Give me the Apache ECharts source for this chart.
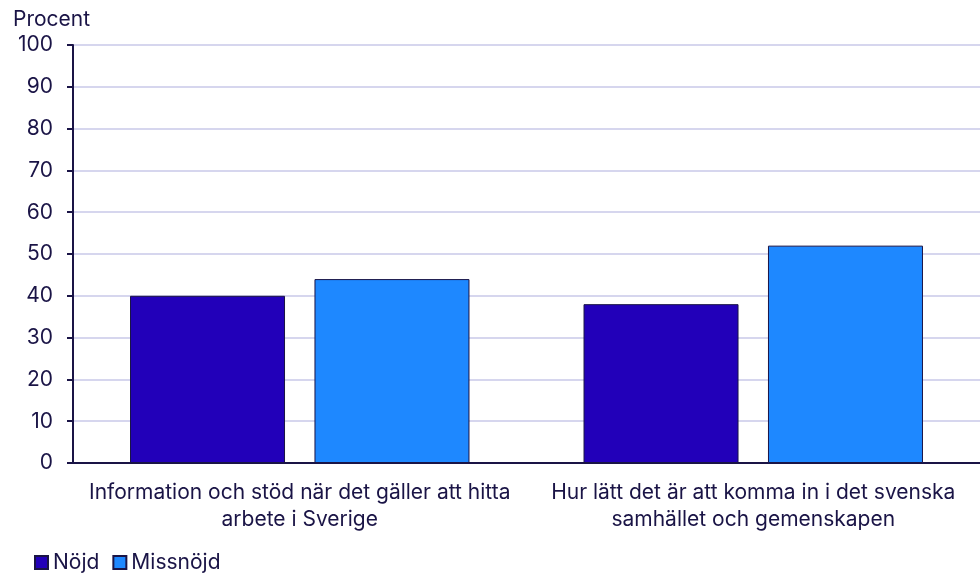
<!DOCTYPE html>
<html>
<head>
<meta charset="utf-8">
<script src="https://cdn.jsdelivr.net/npm/echarts@6/dist/echarts.min.js"></script>
<style>
  html, body { margin: 0; padding: 0; background: #fff; }
  #chart { width: 980px; height: 575px; }
</style>
</head>
<body>
<div id="chart"></div>
<script>
const categories = [
  'Information och stöd när det gäller att hitta\narbete i Sverige',
  'Hur lätt det är att komma in i det svenska\nsamhället och gemenskapen'
]
const nojd = [40, 38]
const missnojd = [44, 52]
const yTicks = [0, 10, 20, 30, 40, 50, 60, 70, 80, 90, 100]

const textColor = '#1a1446'
const font = 'Inter, "Noto Sans", sans-serif'

const chart = echarts.init(document.getElementById('chart'))

chart.setOption({
  animation: false,
  textStyle: { fontFamily: font, color: textColor },
  title: {
    text: 'Procent',
    left: 13,
    top: 9,
    padding: 0,
    textStyle: { fontFamily: font, fontSize: 21, fontWeight: 'normal', color: textColor }
  },
  legend: {
    left: 34,
    bottom: 2,
    padding: 0,
    itemWidth: 13,
    itemHeight: 13,
    itemGap: 13,
    icon: 'rect',
    textStyle: { fontFamily: font, fontSize: 21, color: textColor },
    data: ['Nöjd', 'Missnöjd']
  },
  grid: { left: 73, right: 0, top: 45, bottom: 112 },
  xAxis: {
    type: 'category',
    data: categories,
    axisLine: { lineStyle: { color: textColor, width: 2 } },
    axisTick: { length: 6, lineStyle: { color: textColor, width: 2 } },
    axisLabel: { fontFamily: font, fontSize: 21, color: textColor, lineHeight: 27, margin: 16, interval: 0 }
  },
  yAxis: {
    type: 'value',
    min: yTicks[0],
    max: yTicks[yTicks.length - 1],
    interval: 10,
    axisLine: { show: true, lineStyle: { color: textColor, width: 2 } },
    axisTick: { show: true, length: 6, lineStyle: { color: textColor, width: 2 } },
    axisLabel: { fontFamily: font, fontSize: 21, color: textColor, margin: 20 },
    splitLine: { lineStyle: { color: '#d6d6ee', width: 2 } }
  },
  series: [
    {
      name: 'Nöjd',
      type: 'bar',
      data: nojd,
      barWidth: 155,
      barGap: '19%',
      itemStyle: { color: '#2200b9', borderColor: textColor, borderWidth: 1 }
    },
    {
      name: 'Missnöjd',
      type: 'bar',
      data: missnojd,
      barWidth: 155,
      barGap: '19%',
      itemStyle: { color: '#1e88ff', borderColor: textColor, borderWidth: 1 }
    }
  ]
})
</script>
</body>
</html>
